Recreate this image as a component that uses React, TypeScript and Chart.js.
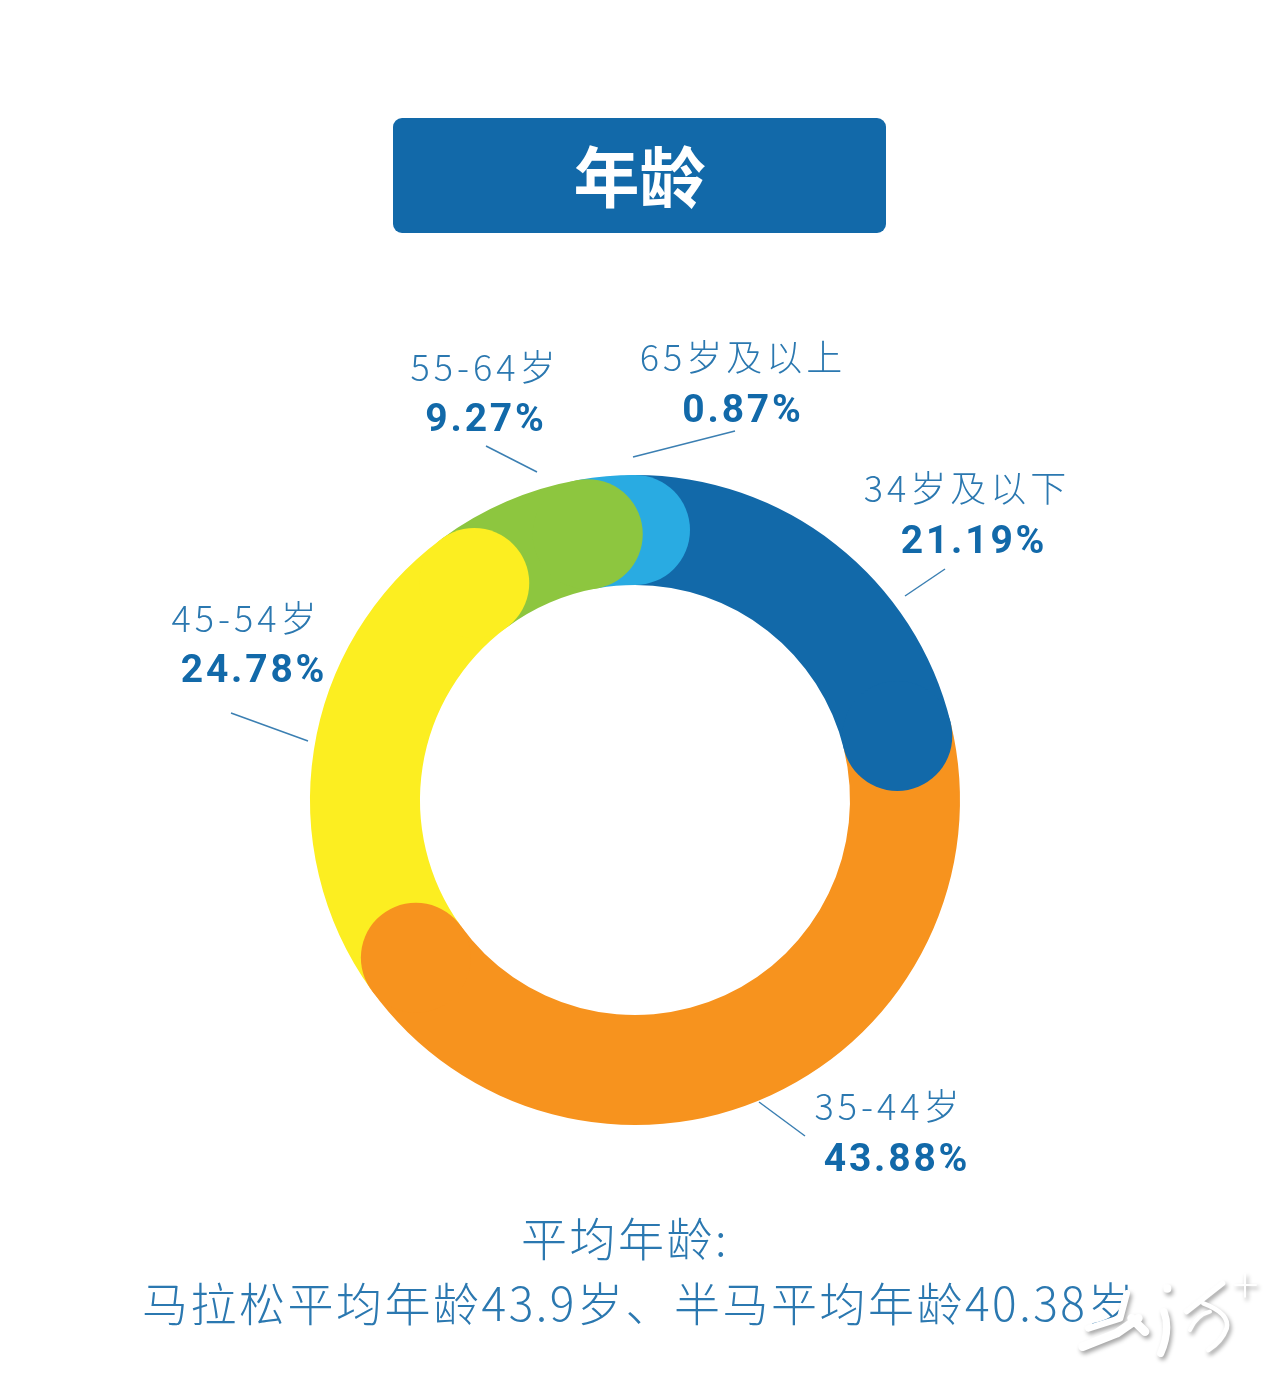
import { useEffect, useRef } from 'react';
import { Chart, ArcElement, DoughnutController } from 'chart.js';
import type { Plugin } from 'chart.js';

Chart.register(DoughnutController, ArcElement);

const AGE_GROUPS = ['34岁及以下', '35-44岁', '45-54岁', '55-64岁', '65岁及以上'];
const PERCENT_TEXT = ['21.19%', '43.88%', '24.78%', '9.27%', '0.87%'];
// sweep of each slice as measured on the ring: the last two are not drawn to their printed share
const ARC_SHARES = [21.19, 43.88, 24.78, 7.35, 2.8];
const COLORS = ['#1269A9', '#F7931E', '#FCEE21', '#8DC63F', '#29ABE2'];

const BLUE = '#1269A9';
const CJK = '"Noto Sans CJK SC", sans-serif';

// label centres, same order as AGE_GROUPS: [x, name y, x, percent y]
const LABEL_POS = [
  [967, 486, 974, 540],
  [889, 1104, 897, 1158],
  [246, 616, 254, 669],
  [485, 365, 486, 418],
  [743, 355, 743, 409],
];

const LEADERS = [
  [945, 569, 905, 596],
  [759, 1102, 805, 1136],
  [231, 713, 308, 741],
  [486, 446, 537, 472],
  [735, 431, 633, 457],
];

// round cap on the clockwise end of every slice, sits on top of the next slice.
// walked backwards so a cap always lands over the cap of the slice after it
const capsPlugin: Plugin<'doughnut'> = {
  id: 'caps',
  afterDatasetsDraw(chart) {
    const { ctx } = chart;
    ctx.save();
    const arcs = chart.getDatasetMeta(0).data;
    for (let i = arcs.length - 1; i >= 0; i--) {
      const { x, y, endAngle, innerRadius, outerRadius } = arcs[i].getProps(
        ['x', 'y', 'endAngle', 'innerRadius', 'outerRadius'], true,
      ) as any;
      const mid = (innerRadius + outerRadius) / 2;
      const r = (outerRadius - innerRadius) / 2;
      ctx.beginPath();
      ctx.arc(x + Math.cos(endAngle) * mid, y + Math.sin(endAngle) * mid, r, 0, Math.PI * 2);
      ctx.fillStyle = COLORS[i];
      ctx.fill();
    }
    ctx.strokeStyle = '#3B7FB2';
    ctx.lineWidth = 1.5;
    LEADERS.forEach(([x1, y1, x2, y2]) => {
      ctx.beginPath();
      ctx.moveTo(x1, y1);
      ctx.lineTo(x2, y2);
      ctx.stroke();
    });
    ctx.restore();
  },
};

function Text({ x, y, children, style }: { x: number; y: number; children: any; style: any }) {
  return (
    <div style={{
      position: 'absolute', left: x, top: y, transform: 'translate(-50%,-50%)',
      whiteSpace: 'nowrap', lineHeight: 1, ...style,
    }}>
      {children}
    </div>
  );
}

const nameStyle = { fontFamily: CJK, fontWeight: 300, fontSize: 36, letterSpacing: 4, color: '#2B78B0' };
const pctStyle = { fontFamily: 'Roboto, sans-serif', fontWeight: 700, fontSize: 39, letterSpacing: 2.8, color: BLUE };
const noteStyle = { fontFamily: CJK, fontWeight: 300, fontSize: 46, letterSpacing: 2.5, color: '#2B78B0' };

export default function App() {
  const canvasRef = useRef<HTMLCanvasElement>(null);

  useEffect(() => {
    if (!canvasRef.current) return;
    const chart = new Chart(canvasRef.current, {
      type: 'doughnut',
      data: {
        labels: AGE_GROUPS,
        datasets: [{ data: ARC_SHARES, backgroundColor: COLORS, borderWidth: 0 }],
      },
      options: {
        responsive: false,
        animation: false,
        cutout: 215,
        layout: { padding: { left: 310, right: 320, top: 475, bottom: 254 } },
        plugins: { legend: { display: false }, tooltip: { enabled: false } },
      },
      plugins: [capsPlugin],
    });
    return () => chart.destroy();
  }, []);

  return (
    <div style={{ position: 'absolute', left: 0, top: 0, width: 1280, height: 1379, background: '#fff', overflow: 'hidden' }}>
      <canvas ref={canvasRef} width={1280} height={1379} style={{ position: 'absolute', left: 0, top: 0 }} />
      <div style={{
        position: 'absolute', left: 393, top: 118, width: 493, height: 115, borderRadius: 9, background: BLUE,
        color: '#fff', fontFamily: CJK, fontWeight: 700, fontSize: 66, lineHeight: '111px', textAlign: 'center',
      }}>
        年龄
      </div>
      {AGE_GROUPS.map((name, i) => (
        <div key={name}>
          <Text x={LABEL_POS[i][0]} y={LABEL_POS[i][1]} style={nameStyle}>{name}</Text>
          <Text x={LABEL_POS[i][2]} y={LABEL_POS[i][3]} style={pctStyle}>{PERCENT_TEXT[i]}</Text>
        </div>
      ))}
      <Text x={625} y={1236} style={noteStyle}>平均年龄:</Text>
      <Text x={639} y={1301} style={noteStyle}>马拉松平均年龄43.9岁、半马平均年龄40.38岁</Text>
      <svg
        width={320} height={129} viewBox="0 0 960 387"
        style={{ position: 'absolute', left: 960, top: 1250, filter: 'drop-shadow(2px 3px 2px rgba(0,0,0,0.35))' }}
        fill="none" stroke="#fff" strokeLinecap="round" strokeLinejoin="round"
      >
        <path strokeWidth={20} d="M500 130 L480 205 L385 235" />
        <path strokeWidth={26} d="M368 290 L470 250 L535 205 M515 205 L555 245" />
        <path strokeWidth={24} d="M622 115 L622 116" />
        <path strokeWidth={22} d="M612 185 Q632 240 602 310" />
        <path strokeWidth={16} d="M680 185 L788 100" />
        <path strokeWidth={14} d="M730 160 Q810 190 800 235 Q785 275 745 300" />
        <path strokeWidth={12} d="M690 240 Q710 195 750 185" />
        <path strokeWidth={6} d="M855 72 L855 140 M825 105 L888 105" />
      </svg>
    </div>
  );
}
